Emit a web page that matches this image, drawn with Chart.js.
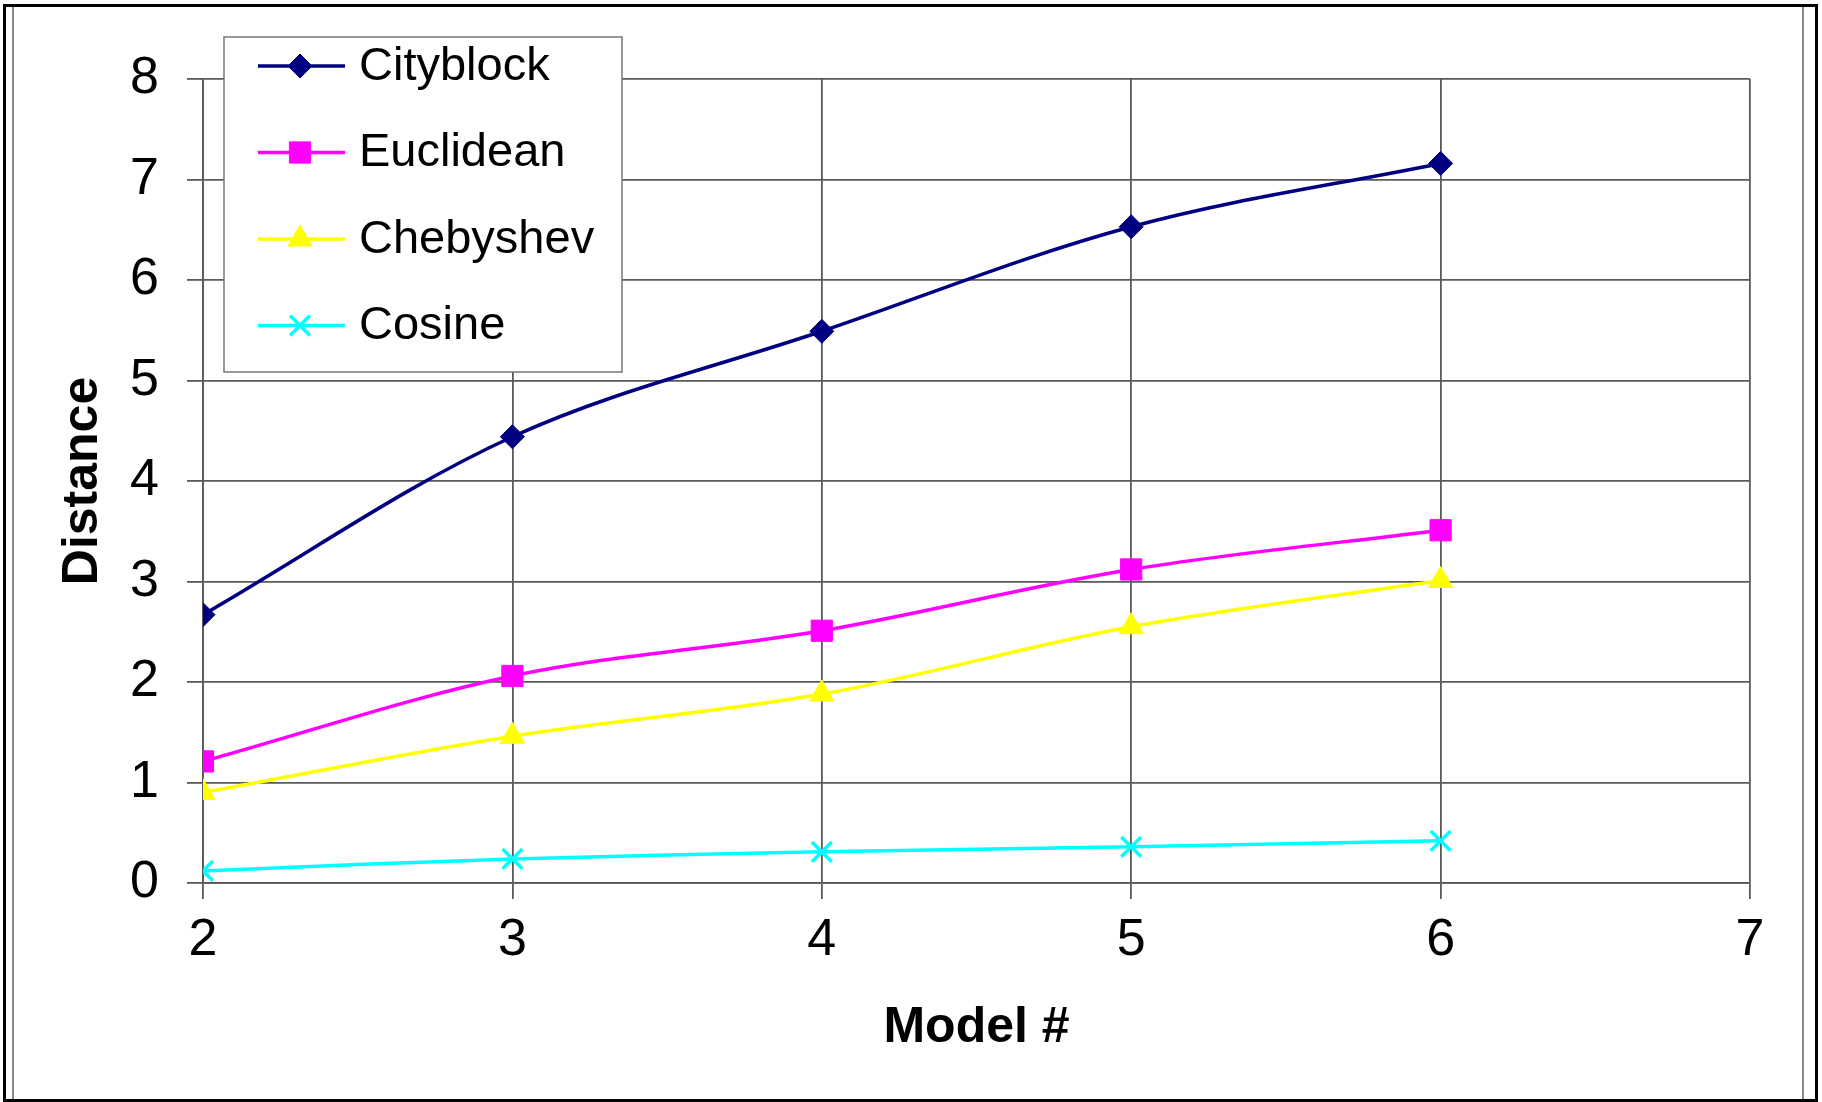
<!DOCTYPE html>
<html>
<head>
<meta charset="utf-8">
<script src="https://cdn.jsdelivr.net/npm/chart.js@4.4.1/dist/chart.umd.min.js"></script>
<style>
html, body { margin: 0; padding: 0; background: #fff; }
#wrap { position: relative; width: 1822px; height: 1102px; }
#distanceChart { position: absolute; left: 0; top: 0; }
.frame { position: absolute; pointer-events: none; box-sizing: border-box; }
</style>
</head>
<body>
<div id="wrap">
    <canvas id="distanceChart" width="1822" height="1102"></canvas>
    <div class="frame" style="left:3px;top:4px;width:1815px;height:1098px;border:3px solid #000;"></div>
    <div class="frame" style="left:12px;top:7px;width:2px;height:1092px;background:#888;"></div>
    <div class="frame" style="left:1802px;top:7px;width:2px;height:1092px;background:#888;"></div>
</div>
<script>
var models = [2, 3, 4, 5, 6]
var cityblock = [2.67, 4.44, 5.49, 6.53, 7.16]
var euclidean = [1.21, 2.06, 2.51, 3.12, 3.51]
var chebyshev = [0.90, 1.46, 1.88, 2.55, 3.01]
var cosine = [0.12, 0.24, 0.31, 0.36, 0.42]

var seriesNames = ["Cityblock", "Euclidean", "Chebyshev", "Cosine"]
var seriesColors = ["#000080", "#ff00ff", "#ffff00", "#00ffff"]

var gridColor = "#5a5a5a"
var fontName = "'Liberation Sans', Arial, sans-serif"

function toPoints(ys){
    return models.map(function(m, i){ return { x: m, y: ys[i] } })
}

function makeSeries(i, ys, style, radius, bw){
    return {
        label: seriesNames[i],
        data: toPoints(ys),
        borderColor: seriesColors[i],
        backgroundColor: seriesColors[i],
        pointBackgroundColor: seriesColors[i],
        pointBorderColor: seriesColors[i],
        pointStyle: style,
        pointRadius: radius,
        pointBorderWidth: bw,
        borderWidth: 3.5,
        tension: 0.34,
        fill: false
    }
}

// legend box drawn over the plot, like the original
var legendBox = {
    id: "legendBox",
    afterDraw: function(chart){
        var ctx = chart.ctx
        ctx.save()
        ctx.fillStyle = "#fff"
        ctx.strokeStyle = "#777"
        ctx.lineWidth = 1.5
        ctx.fillRect(224, 37, 398, 335)
        ctx.strokeRect(224, 37, 398, 335)
        chart.data.datasets.forEach(function(ds, i){
            var y = 66 + i * 86.5
            ctx.strokeStyle = ds.borderColor
            ctx.lineWidth = 3.5
            ctx.beginPath()
            ctx.moveTo(258, y)
            ctx.lineTo(345, y)
            ctx.stroke()
            ctx.fillStyle = ds.backgroundColor
            ctx.lineWidth = ds.pointBorderWidth
            Chart.helpers.drawPoint(ctx, {
                pointStyle: ds.pointStyle,
                radius: ds.pointRadius,
                rotation: 0,
                borderWidth: ds.pointBorderWidth
            }, 300, y)
            ctx.fillStyle = "#000"
            ctx.font = "47px " + fontName
            ctx.textBaseline = "middle"
            ctx.textAlign = "left"
            ctx.fillText(ds.label, 359, y + 1)
        })
        ctx.restore()
    }
}

var canvas = document.querySelector("#distanceChart")

var lineChart = new Chart(canvas, {
    type: "line",
    data: {
        datasets: [
            makeSeries(0, cityblock, "rectRot", 12, 1),
            makeSeries(1, euclidean, "rect", 15, 1),
            makeSeries(2, chebyshev, "triangle", 14, 1),
            makeSeries(3, cosine, "crossRot", 14, 3.5)
        ]
    },
    options: {
        responsive: false,
        animation: false,
        layout: { padding: { left: 0, top: 79, right: 72, bottom: 0 } },
        plugins: {
            legend: { display: false },
            tooltip: { enabled: false }
        },
        scales: {
            x: {
                type: "linear",
                min: 2,
                max: 7,
                ticks: { stepSize: 1, color: "#000", font: { family: fontName, size: 52 }, padding: 10 },
                grid: { color: gridColor, lineWidth: 1.8, tickLength: 16, tickColor: gridColor, tickWidth: 1.8 },
                border: { color: gridColor, width: 1.8 },
                title: {
                    display: true,
                    text: "Model #",
                    color: "#000",
                    font: { family: fontName, size: 50, weight: "bold" },
                    padding: { top: 0, bottom: 44 }
                },
                afterFit: function(s){ s.height = 219 }
            },
            y: {
                min: 0,
                max: 8,
                ticks: { stepSize: 1, color: "#000", font: { family: fontName, size: 52 }, padding: 28 },
                grid: { color: gridColor, lineWidth: 1.8, tickLength: 16, tickColor: gridColor, tickWidth: 1.8 },
                border: { color: gridColor, width: 1.8 },
                title: {
                    display: true,
                    text: "Distance",
                    color: "#000",
                    font: { family: fontName, size: 50, weight: "bold" },
                    padding: { top: 53, bottom: 0 }
                },
                afterFit: function(s){ s.width = 203 }
            }
        }
    },
    plugins: [legendBox]
})
</script>
</body>
</html>
